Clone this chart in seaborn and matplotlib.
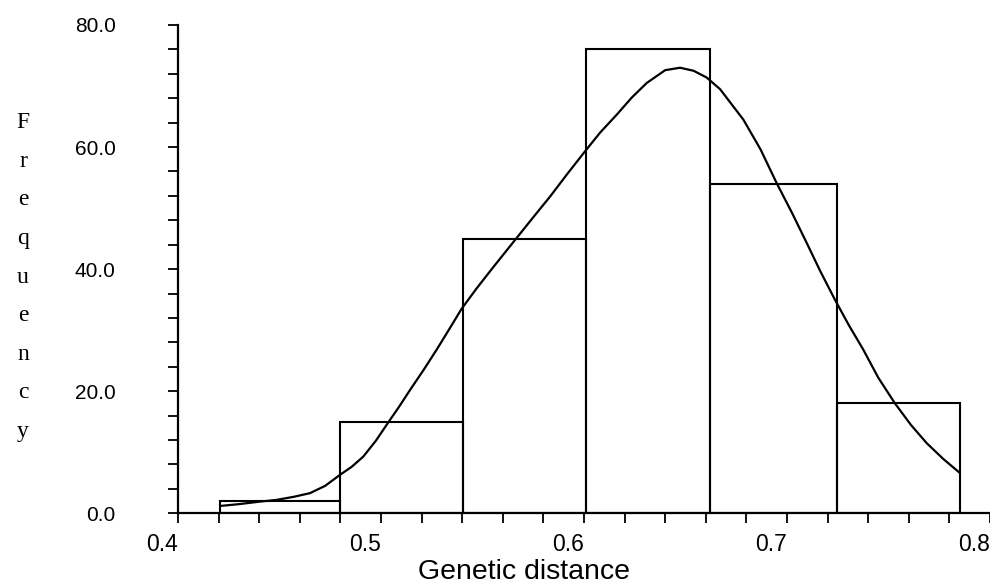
import matplotlib
matplotlib.use("Agg")
import matplotlib.pyplot as plt
from matplotlib.ticker import MultipleLocator, FormatStrFormatter
import seaborn as sns

sns.set_style("ticks")
plt.rcParams["font.family"] = ["Liberation Sans", "DejaVu Sans"]
plt.rcParams["text.color"] = "black"
plt.rcParams["axes.labelcolor"] = "black"
plt.rcParams["axes.edgecolor"] = "black"
plt.rcParams["xtick.color"] = "black"
plt.rcParams["ytick.color"] = "black"

# histogram bins and counts
bin_edges = [0.4207, 0.4798, 0.5402, 0.6010, 0.6620, 0.7245, 0.7850]
counts = [2, 15, 45, 76, 54, 18]

# fitted curve, points
curve_x = [0.4207, 0.4300, 0.4400, 0.4486, 0.4570, 0.4650, 0.4725, 0.4798, 0.4855,
           0.4913, 0.4975, 0.5036, 0.5090, 0.5143, 0.5210, 0.5274, 0.5335, 0.5397,
           0.5470, 0.5550, 0.5668, 0.5750, 0.5833, 0.5920, 0.6005, 0.6080, 0.6161,
           0.6235, 0.6309, 0.6400, 0.6473, 0.6540, 0.6604, 0.6670, 0.6785, 0.6870,
           0.6949, 0.7025, 0.7097, 0.7165, 0.7236, 0.7305, 0.7376, 0.7450, 0.7532,
           0.7610, 0.7688, 0.7770, 0.7852]
curve_y = [1.2, 1.5, 1.9, 2.2, 2.7, 3.3, 4.5, 6.3, 7.6,
           9.3, 11.9, 14.9, 17.5, 20.2, 23.5, 26.8, 30.1, 33.5,
           36.8, 40.2, 45.1, 48.5, 51.9, 55.7, 59.3, 62.4, 65.3,
           68.1, 70.5, 72.6, 73.0, 72.5, 71.4, 69.5, 64.5, 59.6,
           54.1, 49.2, 44.3, 39.6, 35.0, 30.8, 26.8, 22.2, 18.0,
           14.5, 11.5, 8.9, 6.6]

centers = [(bin_edges[i] + bin_edges[i + 1]) / 2 for i in range(len(counts))]

fig = plt.figure(figsize=(9.9, 5.84), dpi=100)
ax = fig.add_axes([178 / 990, (584 - 513.3) / 584, 812 / 990, 488.3 / 584])

sns.histplot(x=centers, weights=counts, bins=bin_edges, fill=False,
             color="black", edgecolor="black", linewidth=1.5, ax=ax)
sns.lineplot(x=curve_x, y=curve_y, color="black", linewidth=1.6, ax=ax)

ax.set_xlim(0.4, 0.8)
ax.set_ylim(0, 80)
sns.despine(ax=ax)
for s in ["left", "bottom"]:
    ax.spines[s].set_linewidth(1.6)
    ax.spines[s].set_clip_on(False)

ax.xaxis.set_major_locator(MultipleLocator(0.1))
ax.xaxis.set_minor_locator(MultipleLocator(0.02))
ax.xaxis.set_major_formatter(FormatStrFormatter("%.1f"))
ax.yaxis.set_major_locator(MultipleLocator(20))
ax.yaxis.set_minor_locator(MultipleLocator(4))
ax.yaxis.set_major_formatter(FormatStrFormatter("%.1f"))

ax.tick_params(axis="both", which="both", direction="out", length=7, width=1.3, color="black")
ax.tick_params(axis="x", which="major", labelsize=16.5, pad=7)
ax.tick_params(axis="y", which="major", labelsize=15, pad=38)
for lab in ax.get_xticklabels():
    lab.set_ha("right")

ax.set_ylabel("")
ax.set_xlabel("Genetic distance", fontsize=20.5)
ax.xaxis.set_label_coords(0.4255, -0.134)
ax.xaxis.label.set_va("baseline")

fig.text(23 / 990, 1 - 277 / 584, "\n".join("Frequency"), family=["Liberation Serif", "DejaVu Serif"],
         fontsize=17, ha="center", va="center", linespacing=2.1)

fig.savefig("out.png", dpi=100, facecolor="white")
